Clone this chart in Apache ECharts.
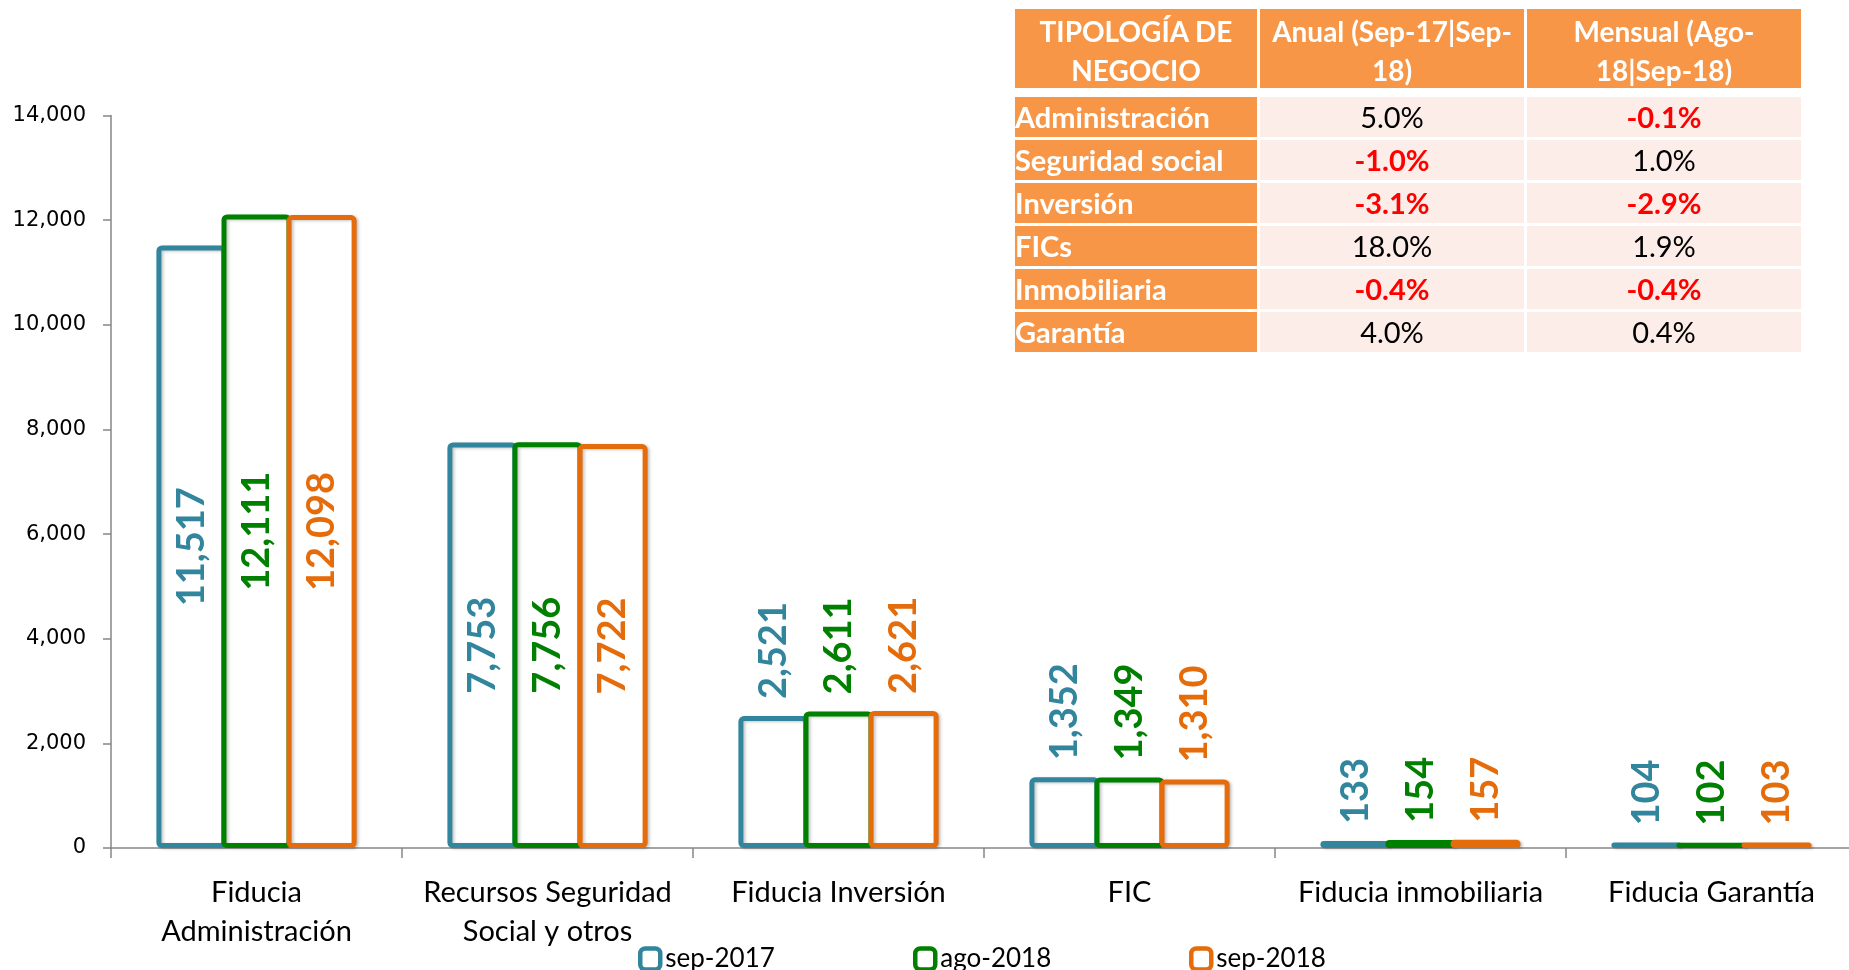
<!DOCTYPE html>
<html>
<head>
<meta charset="utf-8">
<title>Tipología de negocio</title>
<script src="https://cdn.jsdelivr.net/npm/echarts@6/dist/echarts.min.js"></script>
<style>
    body { margin: 0; background: #fff; overflow: hidden; }
    #wrap { position: relative; width: 1849px; height: 970px; overflow: hidden; }
    /* el área de trazado sigue un poco más allá del borde derecho */
    #echarts_tipologia { position: absolute; left: 0; top: 0; width: 1857px; height: 970px; }
    #tabla {
        position: absolute; left: 1015px; top: 9px; z-index: 5;
        display: grid;
        grid-template-columns: 242px 264px 274px;
        grid-template-rows: 79px 3px repeat(6, 40px);
        column-gap: 3px; row-gap: 3px;
        font-family: Lato, "Open Sans", sans-serif;
    }
    #tabla .cab { background: #F79646; color: #fff; font-weight: bold; font-size: 28px;
        line-height: 39px; text-align: center; white-space: pre; padding-top: 3px; box-sizing: border-box; }
    #tabla .tipo { background: #F79646; color: #fff; font-weight: bold; font-size: 29px;
        line-height: 40px; white-space: nowrap; }
    #tabla .val { background: #FCEDE8; color: #000; font-size: 29px; line-height: 40px; text-align: center; }
    #tabla .neg { color: #FF0000; font-weight: bold; }
</style>
</head>
<body>
<div id="wrap">
    <div id="echarts_tipologia"></div>
    <div id="tabla"></div>
</div>
<script>
var categories = ['Fiducia\nAdministración', 'Recursos Seguridad\nSocial y otros', 'Fiducia Inversión', 'FIC', 'Fiducia inmobiliaria', 'Fiducia Garantía'];
var seriesNames = ['sep-2017', 'ago-2018', 'sep-2018'];
var sep2017 = [11517, 7753, 2521, 1352, 133, 104];
var ago2018 = [12111, 7756, 2611, 1349, 154, 102];
var sep2018 = [12098, 7722, 2621, 1310, 157, 103];
var yMin = 0, yMax = 14000, yStep = 2000;

var tablaCabecera = ['TIPOLOGÍA DE\nNEGOCIO', 'Anual (Sep-17|Sep-\n18)', 'Mensual (Ago-\n18|Sep-18)'];
var tipologia = ['Administración', 'Seguridad social', 'Inversión', 'FICs', 'Inmobiliaria', 'Garantía'];
var anual = [5.0, -1.0, -3.1, 18.0, -0.4, 4.0];
var mensual = [-0.1, 1.0, -2.9, 1.9, -0.4, 0.4];

var colores = ['#31859C', '#008000', '#E46C0A'];
var legendLeft = [638, 913, 1189];

function fmt(v) {
    return v.toLocaleString('en-US');
}

// tabla de variaciones
function celda(texto, clase, fila, col) {
    var d = document.createElement('div');
    d.className = clase;
    d.style.gridRow = fila;
    d.style.gridColumn = col;
    d.textContent = texto;
    document.getElementById('tabla').appendChild(d);
}
for (var c = 0; c < tablaCabecera.length; c++) {
    celda(tablaCabecera[c], 'cab', 1, c + 1);
}
for (var r = 0; r < tipologia.length; r++) {
    celda(tipologia[r], 'tipo', r + 3, 1);
    celda(anual[r].toFixed(1) + '%', anual[r] < 0 ? 'val neg' : 'val', r + 3, 2);
    celda(mensual[r].toFixed(1) + '%', mensual[r] < 0 ? 'val neg' : 'val', r + 3, 3);
}

var tipologiaChart = echarts.init(document.getElementById('echarts_tipologia'));

function barSeries(name, data, color) {
    return {
        name: name,
        type: 'bar',
        barWidth: 70,
        barGap: '-7%',
        itemStyle: {
            color: '#fff',
            borderColor: color,
            borderWidth: 5,
            borderRadius: 3,
            shadowColor: 'rgba(0,0,0,0.22)',
            shadowBlur: 3,
            shadowOffsetX: 2,
            shadowOffsetY: 1
        },
        data: data.map(function (v) {
            var dentro = v > yMax / 3;
            return {
                value: v,
                label: {
                    show: true,
                    position: dentro ? 'inside' : 'top',
                    distance: 17,
                    rotate: 90,
                    align: dentro ? 'center' : 'left',
                    verticalAlign: 'middle',
                    color: color,
                    fontFamily: 'Lato',
                    fontWeight: 'bold',
                    fontSize: 38,
                    formatter: function (p) { return fmt(p.value); }
                }
            };
        })
    };
}

var legends = seriesNames.map(function (n, i) {
    return {
        data: [n],
        left: legendLeft[i],
        top: 946,
        padding: 0,
        icon: 'roundRect',
        itemWidth: 20,
        itemHeight: 21,
        itemGap: 0,
        selectedMode: false,
        itemStyle: { color: '#fff', borderWidth: 4.5 },
        textStyle: { fontFamily: 'Lato', fontSize: 26, color: '#000' }
    };
});

var tipologiaOption = {
    animation: false,
    color: colores,
    grid: { left: 111, right: 0, top: 115.6, bottom: 122, containLabel: false },
    legend: legends,
    xAxis: {
        type: 'category',
        data: categories,
        axisLine: { lineStyle: { color: '#868686', width: 1.5 } },
        axisTick: { show: true, length: 10, lineStyle: { color: '#868686', width: 1.5 } },
        axisLabel: {
            interval: 0,
            margin: 25,
            color: '#000',
            fontFamily: 'Lato',
            fontSize: 29,
            lineHeight: 39
        }
    },
    yAxis: {
        type: 'value',
        min: yMin,
        max: yMax,
        interval: yStep,
        splitLine: { show: false },
        axisLine: { show: true, lineStyle: { color: '#868686', width: 1.5 } },
        axisTick: { show: true, length: 8, lineStyle: { color: '#868686', width: 1.5 } },
        axisLabel: {
            margin: 25,
            color: '#000',
            fontFamily: 'DejaVu Sans',
            fontSize: 21,
            formatter: function (v) { return fmt(v); }
        }
    },
    series: [
        barSeries(seriesNames[0], sep2017, colores[0]),
        barSeries(seriesNames[1], ago2018, colores[1]),
        barSeries(seriesNames[2], sep2018, colores[2])
    ]
};
tipologiaChart.setOption(tipologiaOption);
</script>
</body>
</html>
